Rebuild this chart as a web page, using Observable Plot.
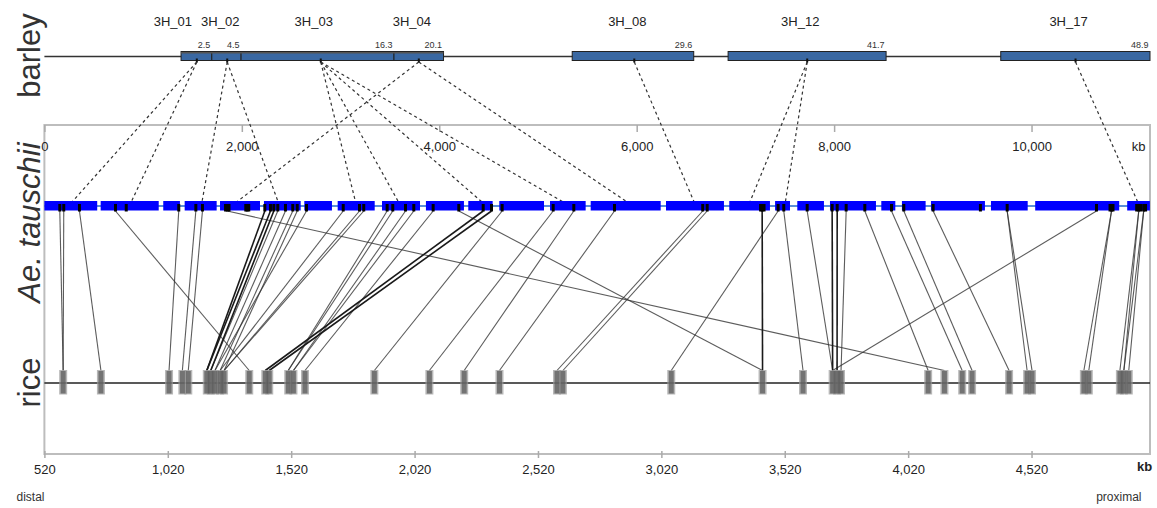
<!DOCTYPE html>
<html>
<head>
<meta charset="utf-8">
<script src="https://cdn.jsdelivr.net/npm/d3@7"></script>
<script src="https://cdn.jsdelivr.net/npm/@observablehq/plot@0.6"></script>
<style>
  body { margin: 0; background: #fff; }
  #chart { width: 1157px; height: 508px; }
</style>
</head>
<body>
<div id="chart"></div>
<script>
// ---------------- DATA ----------------
// Ae. tauschii physical map (kb) and rice chromosome (kb)
const tauschiiDomain = [0, 11200];
const riceDomain = [520, 5000];
const tauschiiTicks = [0, 2000, 4000, 6000, 8000, 10000];
const riceTicks = [520, 1020, 1520, 2020, 2520, 3020, 3520, 4020, 4520];

// barley genetic bins (position along the barley line, % of its length)
const barleyBinNames = ["3H_01", "3H_02", "3H_03", "3H_04", "3H_08", "3H_12", "3H_17"];
const barleyBinStart = [12.36, 15.14, 17.79, 31.62, 47.74, 61.84, 86.5];
const barleyBinEnd   = [15.14, 17.79, 31.62, 36.1, 58.73, 76.13, 100];
const barleyBinCM    = ["2.5", "4.5", "16.3", "20.1", "29.6", "41.7", "48.9"];
const barleyMarkerPos = [13.74, 16.49, 24.95, 33.82, 53.31, 68.95, 93.22];

// barley marker (%) -> Ae. tauschii position (kb)
const barleyLinks = [
  [13.74, 280], [13.74, 877], [16.49, 1592], [16.49, 2361], [33.82, 1949],
  [24.95, 3146], [24.95, 3579], [24.95, 4422], [24.95, 5243], [33.82, 5891],
  [53.31, 6575], [68.95, 7144], [68.95, 7502], [93.22, 11068]
];

// Ae. tauschii contigs (kb)
const contigStart = [0, 570, 1204, 1421, 1779, 2224, 2633, 2971, 3420, 3865, 4294, 4608, 5122, 5534, 6297, 6938, 7402, 7627, 7958, 8478, 8687, 8981, 9589, 10037, 10969];
const contigEnd   = [535, 1158, 1373, 1745, 2184, 2596, 2913, 3346, 3805, 4250, 4541, 5061, 5483, 6243, 6884, 7350, 7553, 7897, 8424, 8620, 8927, 9528, 9961, 10888, 11199];

// Ae. tauschii markers (kb)
const tauschiiMarkers = [151, 191, 350, 715, 824, 1356, 1529, 1596, 1830, 1847, 1865, 2035, 2049, 2065,
  2228, 2285, 2319, 2359, 2437, 2511, 2556, 2650, 3022, 3187, 3230, 3467, 3524, 3653, 3737, 3933,
  4193, 4440, 4524, 4632, 5149, 5358, 5770, 6664, 6709, 7250, 7266, 7285, 7428, 7485, 7722, 7975,
  8026, 8117, 8306, 8576, 8701, 8998, 9477, 9748, 10653, 10790, 10805, 10820, 11060, 11081, 11100, 11131, 11150];

// rice genes (kb)
const riceGenes = [594, 747, 1023, 1077, 1101, 1176, 1192, 1209, 1230, 1246, 1348, 1413, 1429, 1506,
  1527, 1574, 1855, 2078, 2219, 2362, 2595, 2619, 3058, 3428, 3592, 3712, 3730, 3746, 4099, 4165,
  4237, 4277, 4427, 4500, 4520, 4730, 4750, 4876, 4892, 4912];

// Ae. tauschii (kb) -> rice (kb)
const riceLinks = [
  [151, 594], [191, 594], [350, 747], [715, 1348], [1356, 1023], [1529, 1077], [1596, 1101], [1847, 4165],
  [2359, 1192], [2437, 1209], [2511, 1230], [2556, 1246], [2650, 1209], [3022, 1230], [3187, 1246], [3230, 1246],
  [3467, 1506], [3524, 1506], [3653, 1527], [3737, 1527], [3933, 1574], [4193, 3428], [4632, 1855],
  [5149, 2078], [5358, 2219], [5770, 2362], [6664, 2595], [6709, 2619], [7428, 3058], [7485, 3592],
  [7722, 3712], [8117, 3746], [8306, 4099], [8576, 4237], [8701, 4277], [8998, 4427], [9748, 4500], [9748, 4520],
  [10653, 3712], [10805, 4730], [10805, 4750], [11081, 4876], [11081, 4892], [11131, 4892], [11131, 4912]
];
const strongLinks = [
  [2228, 1176], [2285, 1176], [2319, 1192], [4440, 1413], [4524, 1429], [7266, 3428], [7975, 3712], [8026, 3730]
];

// ---------------- BUILD ----------------
const barleyBins = barleyBinNames.map((name, i) => ({
  name, start: barleyBinStart[i], end: barleyBinEnd[i], cM: barleyBinCM[i], marker: barleyMarkerPos[i]
}));
const contigs = contigStart.map((s, i) => ({start: s, end: contigEnd[i]}));

// barley (% of line) and rice (kb) are placed on the shared Ae. tauschii x scale
const b2x = d3.scaleLinear().domain([0, 100]).range(tauschiiDomain);
const r2x = d3.scaleLinear().domain(riceDomain).range(tauschiiDomain);

// vertical layout (px)
const L = {
  binName: 21, binCM: 45, barley: 56, barleyTop: 51.5, barleyBot: 60.5,
  frameTop: 125, tickLab: 146, ctgTop: 201, ctgBot: 210.5, ctgMid: 205.5,
  rice: 382.5, riceTop: 370, riceBot: 394.5, frameBot: 454, riceLab: 469, foot: 497
};
const font = "Liberation Sans, Arial, sans-serif";
const fmt = d3.format(",");

const chart = Plot.plot({
  width: 1157,
  height: 508,
  margin: 0,
  x: {domain: tauschiiDomain, range: [44.4, 1150], axis: null},
  y: {type: "identity", axis: null},
  style: {fontFamily: font, background: "#fff"},
  marks: [
    // panel frame
    Plot.rect([0], {x1: tauschiiDomain[0], x2: tauschiiDomain[1], y1: L.frameTop, y2: L.frameBot,
      fill: "none", stroke: "#bdbdbd", strokeWidth: 2}),
    // top axis (Ae. tauschii kb)
    Plot.ruleX(tauschiiTicks, {x: d => d, y1: L.frameTop, y2: L.frameTop + 7, stroke: "#aaa", strokeWidth: 1.5}),
    Plot.text(tauschiiTicks, {x: d => d, y: L.tickLab, text: d => fmt(d), fontSize: 13, fill: "#222"}),
    Plot.text(["kb"], {x: tauschiiDomain[1], y: L.tickLab, dx: -12, text: d => d, fontSize: 13, fill: "#222"}),
    // bottom axis (rice kb)
    Plot.ruleX(riceTicks, {x: d => r2x(d), y1: L.frameBot - 3, y2: L.frameBot + 4, stroke: "#aaa", strokeWidth: 1.5}),
    Plot.text(riceTicks, {x: d => r2x(d), y: L.riceLab, text: d => fmt(d), fontSize: 13, fill: "#222"}),
    Plot.text(["kb"], {x: tauschiiDomain[1], y: L.riceLab - 3, dx: -6, text: d => d, fontSize: 13, fontWeight: "bold", fill: "#222"}),
    Plot.text(["distal"], {frameAnchor: "left", y: L.foot, dx: 16, text: d => d, textAnchor: "start", fontSize: 12, fill: "#333"}),
    Plot.text(["proximal"], {frameAnchor: "right", y: L.foot, dx: -16, text: d => d, textAnchor: "end", fontSize: 12, fill: "#333"}),

    // barley chromosome
    Plot.ruleY([L.barley], {y: d => d, x1: tauschiiDomain[0], x2: tauschiiDomain[1], stroke: "#333", strokeWidth: 1.5}),
    Plot.rect(barleyBins, {x1: d => b2x(d.start), x2: d => b2x(d.end), y1: L.barleyTop, y2: L.barleyBot,
      fill: "#3a68a2", stroke: "#222", strokeWidth: 1}),
    Plot.ruleY([L.barleyTop + 0.8], {y: d => d, x1: b2x(barleyBinStart[0]), x2: b2x(barleyBinEnd[3]), stroke: "#555", strokeWidth: 1.6}),
    Plot.text(barleyBins, {x: d => b2x(d.end), y: L.binCM, text: "cM", textAnchor: "end", dx: -2, fontSize: 9, fill: "#333"}),
    Plot.text(barleyBins.slice(0, 1), {x: d => b2x(d.marker), y: L.binName, text: "name", dx: -24, fontSize: 13, fill: "#222"}),
    Plot.text(barleyBins.slice(1), {x: d => b2x(d.marker), y: L.binName, text: "name", dx: -7, fontSize: 13, fill: "#222"}),
    Plot.ruleX(barleyMarkerPos, {x: d => b2x(d), y1: L.barleyBot - 2, y2: L.barleyBot + 2, stroke: "#111", strokeWidth: 2}),

    // barley -> Ae. tauschii (dashed)
    Plot.link(barleyLinks, {x1: d => b2x(d[0]), y1: L.barleyBot + 1, x2: d => d[1], y2: L.ctgTop,
      stroke: "#333", strokeWidth: 1.2, strokeDasharray: "3,3"}),

    // Ae. tauschii -> rice (solid)
    Plot.link(riceLinks, {x1: d => d[0], y1: L.ctgBot, x2: d => r2x(d[1]), y2: L.riceTop,
      stroke: "#333", strokeWidth: 1.1, strokeOpacity: 0.8}),
    Plot.link(strongLinks, {x1: d => d[0], y1: L.ctgBot, x2: d => r2x(d[1]), y2: L.riceTop,
      stroke: "#1a1a1a", strokeWidth: 1.6}),

    // Ae. tauschii contigs
    Plot.ruleY([L.ctgMid], {y: d => d, x1: contigStart[0], x2: contigEnd[contigEnd.length - 1], stroke: "#5b8fd9", strokeWidth: 2}),
    Plot.rect(contigs, {x1: "start", x2: "end", y1: L.ctgTop, y2: L.ctgBot, fill: "#0000ff"}),
    Plot.ruleX(tauschiiMarkers, {x: d => d, y1: L.ctgTop + 3, y2: L.ctgBot + 1, stroke: "#000", strokeWidth: 3}),

    // rice chromosome
    Plot.ruleY([L.rice], {y: d => d, x1: tauschiiDomain[0], x2: tauschiiDomain[1], stroke: "#222", strokeWidth: 1.5}),
    Plot.ruleX(riceGenes, {x: d => r2x(d), y1: L.riceTop, y2: L.riceBot, stroke: "#999", strokeWidth: 8, strokeOpacity: 0.7}),
    Plot.ruleX(riceGenes, {x: d => r2x(d), y1: L.riceTop + 1, y2: L.riceBot - 1, stroke: "#555", strokeWidth: 5, strokeOpacity: 0.7}),

    // track labels
    Plot.text(["barley"], {frameAnchor: "left", y: 55, dx: 30, rotate: -90, textAnchor: "middle", text: d => d, fontSize: 31, fill: "#333"}),
    Plot.text(["Ae. tauschii"], {frameAnchor: "left", y: 222, dx: 30, rotate: -90, textAnchor: "middle", text: d => d, fontSize: 31, fontStyle: "italic", fill: "#333"}),
    Plot.text(["rice"], {frameAnchor: "left", y: 382, dx: 30, rotate: -90, textAnchor: "middle", text: d => d, fontSize: 31, fill: "#333"})
  ]
});
document.getElementById("chart").appendChild(chart);
</script>
</body>
</html>
